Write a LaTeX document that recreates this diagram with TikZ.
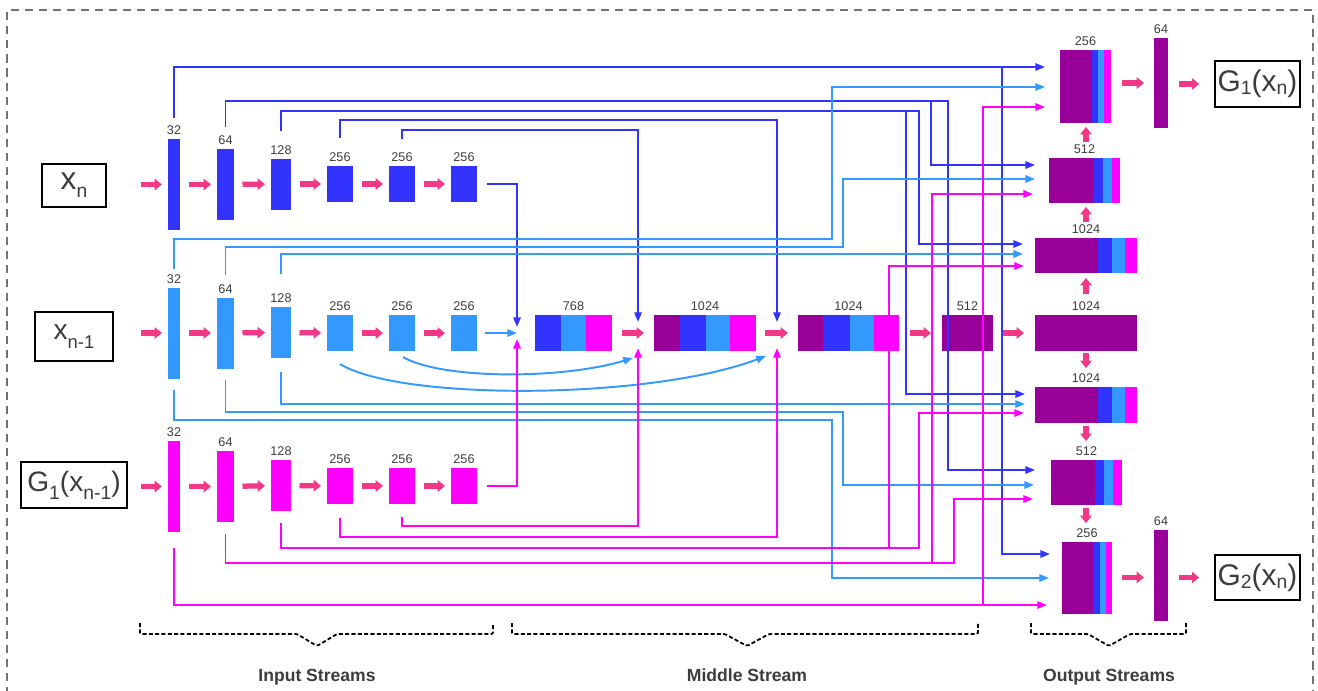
\documentclass[tikz,border=0pt]{standalone}
\usepackage{fontspec}
\setmainfont{Liberation Sans}
\usetikzlibrary{arrows.meta, positioning, calc}
\definecolor{cBlue}{RGB}{51,51,255}
\definecolor{cLight}{RGB}{51,153,255}
\definecolor{cMag}{RGB}{255,0,255}
\definecolor{cPurple}{RGB}{153,0,153}
\definecolor{cPink}{RGB}{242,56,135}
\definecolor{cPinkD}{RGB}{205,20,100}
\definecolor{cText}{RGB}{60,60,60}
\newcommand{\lowtxt}[3]{\raisebox{#1}{\fontsize{#2}{#2}\selectfont #3}}
\newcommand{\stripe}[4]{\fill[#4] ($(#1.south west)+(#2,0)$) rectangle ($(#1.north west)+(#3,0)$);}
\newcommand{\bracket}[4]{\draw[brace] (#1,623) -- (#1,634) -- ({#2-#4},634) -- (#2,646) -- ({#2+#4},634) -- (#3,634) -- (#3,623);}
\tikzset{
	sz/.style 2 args={minimum width=#1*0.02cm, minimum height=#2*0.02cm},
	blk/.style={rectangle, fill=#1, inner sep=0pt, outer sep=0pt},
	lbl/.style={font=\fontsize{7.2}{8}\selectfont, text=cText, inner sep=0pt},
	io/.style={rectangle, draw=black, line width=0.9pt, inner sep=0pt, text=cText},
	fat/.style={draw=cPink, line width=3pt, -{Triangle[length=4.2pt,width=6.5pt]}},
	gapfat/.style={fat, shorten <=0.17cm, shorten >=0.12cm},
	skip/.style={draw=#1, line width=1.1pt, -{Triangle[length=5.5pt,width=4.2pt]}},
	brace/.style={line width=1pt, dash pattern=on 2.3pt off 1.3pt, rounded corners=0.8pt},
	frame/.style={draw=black!55, line width=0.9pt, dash pattern=on 4.6pt off 3.4pt},
	streamlbl/.style={font=\fontsize{10}{12}\selectfont\bfseries, text=cText, anchor=base},
}
\begin{document}
\begin{tikzpicture}[x=0.02cm, y=-0.02cm, label distance=2.2pt, every label/.style=lbl]
\useasboundingbox (0,0) rectangle (1318,690);
\draw[frame] (7,695) -- (7,10) -- (1313,10) -- (1313,695);

% inputs and outputs
\node[io, sz={64}{43}, font=\fontsize{18}{18}\selectfont] (xn) at (74,185.5) {x\lowtxt{-4.5pt}{11}{n}};
\node[io, sz={78}{49}, font=\fontsize{16}{16}\selectfont] (xnm) at (74,336.5) {x\lowtxt{-5pt}{10.5}{n-1}};
\node[io, sz={106}{46}, font=\fontsize{16}{16}\selectfont] (gxnm) at (74,485) {G\lowtxt{-4.5pt}{11}{1}(x\lowtxt{-4.5pt}{11}{n-1})};
\node[io, sz={85}{46}, font=\fontsize{17}{17}\selectfont] (gxn) at (1257.5,84) {G\lowtxt{-1.7pt}{11}{1}(x\lowtxt{-1.7pt}{11}{n})};
\node[io, sz={85}{45}, font=\fontsize{17}{17}\selectfont] (g2xn) at (1257.5,577.5) {G\lowtxt{-1.7pt}{11}{2}(x\lowtxt{-1.7pt}{11}{n})};

% input streams
\node[blk=cBlue, sz={12}{91}, label=above:32] (bl32) at (174,184.5) {};
\node[blk=cBlue, sz={17}{71}, label=above:64] (bl64) at (225.5,184.5) {};
\node[blk=cBlue, sz={20}{51}, label=above:128] (bl128) at (281,184) {};
\node[blk=cBlue, sz={26}{36}, label=above:256] (bl256a) at (340,184) {};
\node[blk=cBlue, sz={26}{36}, label=above:256] (bl256b) at (402,184) {};
\node[blk=cBlue, sz={26}{36}, label=above:256] (bl256c) at (464,184) {};

\node[blk=cLight, sz={12}{91}, label=above:32] (lb32) at (174,333) {};
\node[blk=cLight, sz={17}{71}, label=above:64] (lb64) at (225.5,333) {};
\node[blk=cLight, sz={20}{51}, label=above:128] (lb128) at (281,332.5) {};
\node[blk=cLight, sz={26}{36}, label=above:256] (lb256a) at (340,333) {};
\node[blk=cLight, sz={26}{36}, label=above:256] (lb256b) at (402,333) {};
\node[blk=cLight, sz={26}{36}, label=above:256] (lb256c) at (464,333) {};

\node[blk=cMag, sz={12}{91}, label=above:32] (mg32) at (174,486.5) {};
\node[blk=cMag, sz={17}{71}, label=above:64] (mg64) at (225.5,486.5) {};
\node[blk=cMag, sz={20}{51}, label=above:128] (mg128) at (281,485.5) {};
\node[blk=cMag, sz={26}{36}, label=above:256] (mg256a) at (340,486) {};
\node[blk=cMag, sz={26}{36}, label=above:256] (mg256b) at (402,486) {};
\node[blk=cMag, sz={26}{36}, label=above:256] (mg256c) at (464,486) {};

\draw[fat, shorten <=0.68cm, shorten >=0.12cm] (xn.east |- bl32) -- (bl32.west);
\draw[gapfat] (bl32) -- (bl64); \draw[gapfat] (bl64) -- (bl128); \draw[gapfat] (bl128) -- (bl256a);
\draw[gapfat] (bl256a) -- (bl256b); \draw[gapfat] (bl256b) -- (bl256c);
\draw[fat, shorten <=0.54cm, shorten >=0.12cm] (xnm.east |- lb32) -- (lb32.west);
\draw[gapfat] (lb32) -- (lb64); \draw[gapfat] (lb64) -- (lb128); \draw[gapfat] (lb128) -- (lb256a);
\draw[gapfat] (lb256a) -- (lb256b); \draw[gapfat] (lb256b) -- (lb256c);
\draw[fat, shorten <=0.26cm, shorten >=0.12cm] (gxnm.east |- mg32) -- (mg32.west);
\draw[gapfat] (mg32) -- (mg64); \draw[gapfat] (mg64) -- (mg128); \draw[gapfat] (mg128) -- (mg256a);
\draw[gapfat] (mg256a) -- (mg256b); \draw[gapfat] (mg256b) -- (mg256c);

% middle stream
\coordinate (j1) at (517,333);
\coordinate (j2) at (638,333);
\coordinate (j3) at (777,333);
\node[blk=cBlue, sz={77}{36}, label=above:768] (ms768) at (573.5,333) {};
\stripe{ms768}{26}{51}{cLight} \stripe{ms768}{51}{77}{cMag}
\node[blk=cPurple, sz={102}{36}, label=above:1024] (ms1024a) at (705,333) {};
\stripe{ms1024a}{26}{52}{cBlue} \stripe{ms1024a}{52}{76}{cLight} \stripe{ms1024a}{76}{102}{cMag}
\node[blk=cPurple, sz={101}{36}, label=above:1024] (ms1024b) at (848.5,333) {};
\stripe{ms1024b}{25}{52}{cBlue} \stripe{ms1024b}{52}{76}{cLight} \stripe{ms1024b}{76}{101}{cMag}
\node[blk=cPurple, sz={51}{36}, label=above:512] (ms512) at (967.5,333) {};
\draw[fat, shorten <=0.2cm, shorten >=0.2cm] (ms768) -- (ms1024a);
\draw[fat, shorten <=0.18cm, shorten >=0.2cm] (ms1024a) -- (ms1024b);
\draw[fat, shorten <=0.22cm, shorten >=0.22cm] (ms1024b) -- (ms512);

% output streams
\node[blk=cPurple, sz={102}{36}, label=above:1024] (oc1024) at (1086,333) {};
\node[blk=cPurple, sz={102}{35}, label=above:1024] (ot1024) at (1086,255.5) {};
\stripe{ot1024}{63}{77}{cBlue} \stripe{ot1024}{77}{90}{cLight} \stripe{ot1024}{90}{102}{cMag}
\node[blk=cPurple, sz={71}{45}, label=above:512] (ot512) at (1084.5,180.5) {};
\stripe{ot512}{44}{54}{cBlue} \stripe{ot512}{54}{63}{cLight} \stripe{ot512}{63}{71}{cMag}
\node[blk=cPurple, sz={51}{73}, label=above:256] (ot256) at (1085.5,86.5) {};
\stripe{ot256}{32}{38}{cBlue} \stripe{ot256}{38}{44}{cLight} \stripe{ot256}{44}{51}{cMag}
\node[blk=cPurple, sz={14}{90}, label=above:64] (ot64) at (1161,83) {};
\node[blk=cPurple, sz={102}{36}, label=above:1024] (ob1024) at (1086,405) {};
\stripe{ob1024}{63}{77}{cBlue} \stripe{ob1024}{77}{90}{cLight} \stripe{ob1024}{90}{102}{cMag}
\node[blk=cPurple, sz={71}{45}, label=above:512] (ob512) at (1086.5,482.5) {};
\stripe{ob512}{44}{53}{cBlue} \stripe{ob512}{53}{62}{cLight} \stripe{ob512}{62}{71}{cMag}
\node[blk=cPurple, sz={50}{72}, label=above:256] (ob256) at (1087,578) {};
\stripe{ob256}{31}{38}{cBlue} \stripe{ob256}{38}{44}{cLight} \stripe{ob256}{44}{50}{cMag}
\node[blk=cPurple, sz={14}{91}, label=above:64] (ob64) at (1161,575.5) {};

\draw[fat, shorten <=0.2cm, shorten >=0.22cm] (ms512) -- (oc1024);
\draw[fat, shorten <=0.42cm, shorten >=0.1cm] (oc1024.north) -- (ot1024.south);
\draw[fat, shorten <=0.32cm, shorten >=0.08cm] (ot1024.north) -- (ot1024.north |- ot512.south);
\draw[fat, shorten <=0.32cm, shorten >=0.08cm] (ot1024.north |- ot512.north) -- (ot1024.north |- ot256.south);
\draw[fat, shorten <=0.04cm, shorten >=0.38cm] (oc1024.south) -- (ob1024.north);
\draw[fat, shorten <=0.06cm, shorten >=0.38cm] (ob1024.south) -- (ob1024.south |- ob512.north);
\draw[fat, shorten <=0.06cm, shorten >=0.38cm] (ob1024.south |- ob512.south) -- (ob1024.south |- ob256.north);
\draw[fat, shorten <=0.22cm, shorten >=0.2cm] (ot256.east |- ot64) -- (ot64.west);
\draw[fat, shorten <=0.22cm, shorten >=0.3cm] (ot64.east |- gxn) -- (gxn.west);
\draw[fat, shorten <=0.2cm, shorten >=0.2cm] (ob256.east |- g2xn) -- (ob64.west |- g2xn);
\draw[fat, shorten <=0.22cm, shorten >=0.3cm] (ob64.east |- g2xn) -- (g2xn.west);

% skip connections, blue stream
\draw[skip=cBlue, shorten >=0.3cm] ($(bl32.north)+(0,-21)$) |- (ot256.west |- 0,67);
\draw[skip=cBlue, shorten >=0.24cm] ($(bl32.north)+(0,-21)$) |- (1002,67) |- (ob256.west |- 0,554);
\draw[skip=cBlue, shorten >=0.28cm] ($(bl64.north)+(0,-22)$) |- (931,101) |- (ot512.west |- 0,165);
\draw[skip=cBlue, shorten >=0.32cm] ($(bl64.north)+(0,-22)$) |- (948,101) |- (ob512.west |- 0,470);
\draw[skip=cBlue, shorten >=0.24cm] ($(bl128.north)+(0,-28)$) |- (919,111) |- (ot1024.west |- 0,244);
\draw[skip=cBlue, shorten >=0.2cm] ($(bl128.north)+(0,-28)$) |- (906,111) |- (ob1024.west |- 0,394);
\draw[skip=cBlue, shorten >=0.22cm] ($(bl256a.north)+(0,-28)$) |- (j3 |- 0,120) -- (j3);
\draw[skip=cBlue, shorten >=0.22cm] ($(bl256b.north)+(0,-27)$) |- (j2 |- 0,130) -- (j2);
\draw[skip=cBlue, shorten >=0.12cm] ($(bl256c.east)+(10,0)$) -| (j1);

% skip connections, light blue stream
\draw[skip=cLight, shorten >=0.3cm] ($(lb32.north)+(0,-19)$) |- (832,239) |- (ot256.west |- 0,87);
\draw[skip=cLight, shorten >=0.26cm] ($(lb32.south)+(0,11)$) |- (832,420) |- (ob256.west |- 0,578);
\draw[skip=cLight, shorten >=0.28cm] ($(lb64.north)+(0,-23)$) |- (843,247) |- (ot512.west |- 0,179);
\draw[skip=cLight, shorten >=0.34cm] ($(lb64.south)+(0,11)$) |- (843,412) |- (ob512.west |- 0,485);
\draw[skip=cLight, shorten >=0.24cm] ($(lb128.north)+(0,-33)$) |- (ot1024.west |- 0,254);
\draw[skip=cLight, shorten >=0.2cm] ($(lb128.south)+(0,14)$) |- (ob1024.west |- 0,404);
\draw[skip=cLight] ($(lb256a.south)+(0,13)$) .. controls +(60,37) and +(-116,44) .. ($(j3)+(-11,23)$);
\draw[skip=cLight] ($(lb256b.south)+(1,6)$) .. controls +(37,22) and +(-73,22) .. ($(j2)+(-5,25)$);
\draw[skip=cLight] ($(lb256c.east)+(8,0)$) -- (j1);

% skip connections, magenta stream
\draw[skip=cMag, shorten >=0.3cm] ($(mg32.south)+(0,16)$) |- (983,605) |- (ot256.west |- 0,107);
\draw[skip=cMag, shorten >=0.3cm] ($(mg32.south)+(0,16)$) |- (ob256.west |- 0,605);
\draw[skip=cMag, shorten >=0.32cm] ($(mg64.south)+(0,12)$) |- (932,563) |- (ot512.west |- 0,194);
\draw[skip=cMag, shorten >=0.36cm] ($(mg64.south)+(0,12)$) |- (954,563) |- (ob512.west |- 0,499);
\draw[skip=cMag, shorten >=0.22cm] ($(mg128.south)+(0,12)$) |- (889,548) |- (ot1024.west |- 0,266);
\draw[skip=cMag, shorten >=0.22cm] ($(mg128.south)+(0,12)$) |- (919,548) |- (ob1024.west |- 0,413);
\draw[skip=cMag, shorten >=0.3cm] ($(mg256a.south)+(0,14)$) |- (j3 |- 0,537) -- (j3);
\draw[skip=cMag, shorten >=0.3cm] ($(mg256b.south)+(0,13)$) |- (j2 |- 0,526) -- (j2);
\draw[skip=cMag, shorten >=0.12cm] ($(mg256c.east)+(10,0)$) -| (j1);

% stream braces
\bracket{140}{317}{493}{20}
\bracket{512}{747}{978}{22}
\bracket{1031}{1109}{1186}{21}
\node[streamlbl] (inLbl) at (317,681) {Input Streams};
\node[streamlbl] (midLbl) at (747,681) {Middle Stream};
\node[streamlbl] (outLbl) at (1109,681) {Output Streams};
\end{tikzpicture}
\end{document}
